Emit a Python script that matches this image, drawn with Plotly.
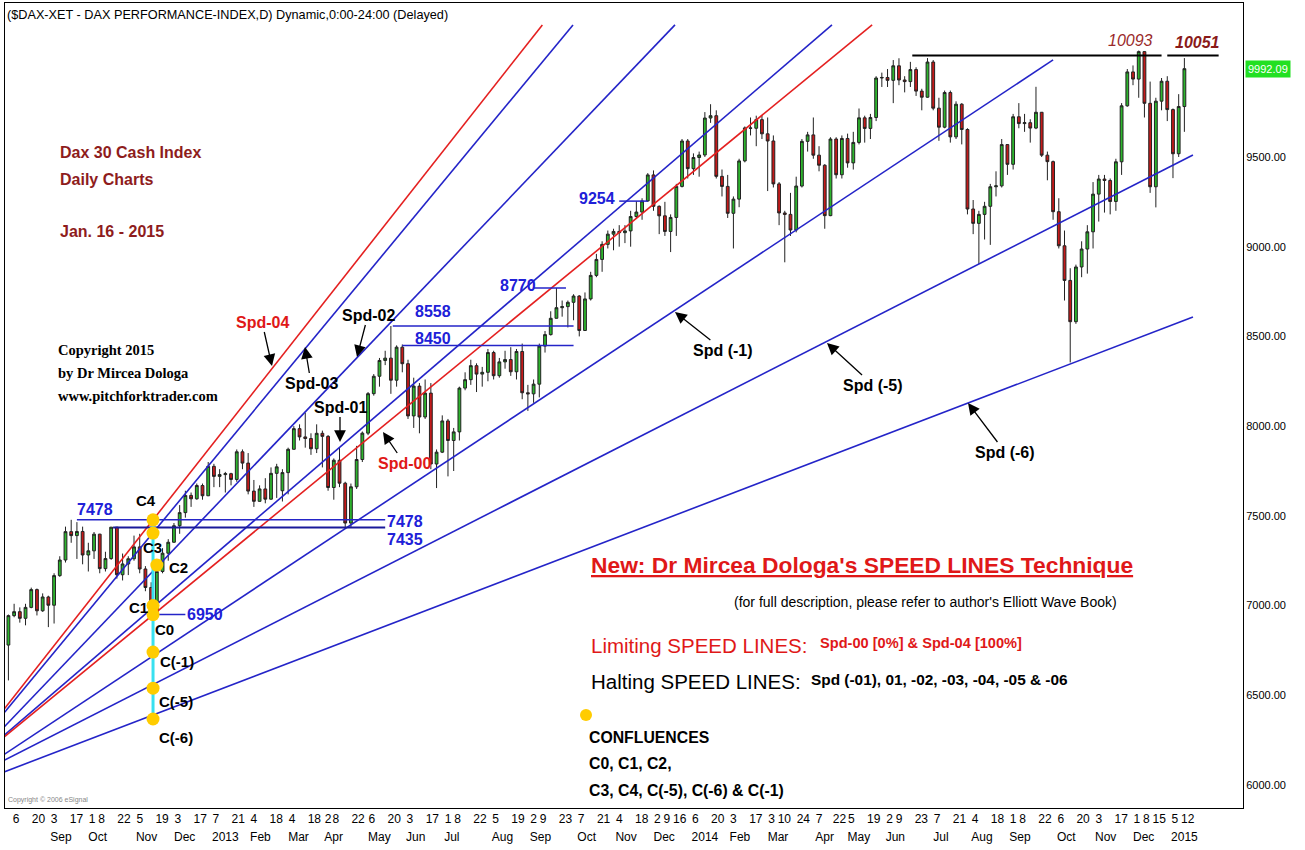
import pandas as pd
import plotly.graph_objects as go

# ---------------------------------------------------------------- data ----
XETRA_HOLIDAYS = ["2012-12-24", "2012-12-25", "2012-12-26", "2012-12-31",
                  "2013-01-01", "2013-03-29", "2013-04-01", "2013-05-01",
                  "2013-12-24", "2013-12-25", "2013-12-26", "2013-12-31",
                  "2014-01-01", "2014-04-18", "2014-04-21", "2014-05-01",
                  "2014-12-24", "2014-12-25", "2014-12-26", "2014-12-31",
                  "2015-01-01"]

# DAX daily chart, drawn as 3-session candles (Aug 1 2012 -> Jan 15 2015)
bar_open = [
    6780, 6944, 6966, 6929, 6990, 7089, 6971, 7048, 7002, 7167,
    7254, 7412, 7390, 7413, 7282, 7305, 7398, 7206, 7262, 7437,
    7172, 7232, 7261, 7327, 7204, 7101, 6950, 7190, 7292, 7353,
    7445, 7518, 7614, 7595, 7669, 7612, 7776, 7720, 7730, 7735,
    7703, 7857, 7794, 7638, 7581, 7650, 7593, 7737, 7640, 7741,
    7871, 7986, 7940, 7931, 7874, 7960, 7943, 7658, 7810, 7682,
    7460, 7662, 7814, 7961, 8181, 8278, 8366, 8379, 8256, 8440,
    8348, 8057, 8223, 8051, 8184, 7789, 7855, 8029, 7920, 7968,
    8212, 8259, 8337, 8290, 8300, 8410, 8281, 8358, 8371, 8303,
    8416, 8186, 8180, 8234, 8446, 8510, 8601, 8660, 8666, 8690,
    8725, 8533, 8709, 8840, 8929, 9013, 9070, 9085, 9078, 9088,
    9168, 9193, 9255, 9400, 9225, 9172, 9085, 9163, 9336, 9589,
    9435, 9497, 9511, 9717, 9730, 9392, 9336, 9186, 9265, 9478,
    9662, 9660, 9708, 9629, 9589, 9350, 9188, 9180, 9093, 9338,
    9587, 9623, 9510, 9454, 9173, 9600, 9401, 9603, 9467, 9581,
    9718, 9659, 9720, 9940, 9943, 9927, 10008, 9929, 9920, 9987,
    9867, 9833, 10029, 9772, 9666, 9859, 9612, 9794, 9653, 9210,
    9130, 9180, 9225, 9334, 9339, 9569, 9459, 9724, 9686, 9691,
    9661, 9749, 9510, 9474, 9195, 9005, 8812, 8582, 8887, 8987,
    9083, 9293, 9377, 9369, 9252, 9473, 9785, 9974, 9934, 10087,
    9799, 9334, 9811, 9922, 9764, 9518, 9781]
bar_high = [
    6950, 7010, 6990, 7010, 7100, 7095, 7068, 7055, 7180, 7275,
    7440, 7478, 7465, 7440, 7350, 7410, 7400, 7300, 7437, 7437,
    7290, 7275, 7390, 7400, 7220, 7130, 7200, 7320, 7370, 7460,
    7560, 7640, 7630, 7680, 7680, 7800, 7790, 7760, 7745, 7740,
    7870, 7870, 7850, 7700, 7670, 7710, 7770, 7790, 7760, 7880,
    8000, 8010, 8075, 7960, 8010, 7975, 7950, 7820, 7880, 7690,
    7680, 7890, 7970, 8190, 8290, 8380, 8420, 8558, 8450, 8455,
    8370, 8270, 8240, 8260, 8240, 7870, 8060, 8040, 7990, 8220,
    8300, 8370, 8350, 8330, 8430, 8420, 8380, 8420, 8440, 8430,
    8460, 8230, 8260, 8460, 8530, 8640, 8770, 8700, 8700, 8735,
    8730, 8745, 8860, 8960, 9030, 9090, 9100, 9120, 9120, 9200,
    9254, 9270, 9410, 9425, 9230, 9250, 9180, 9350, 9600, 9600,
    9520, 9530, 9750, 9794, 9760, 9430, 9400, 9280, 9490, 9670,
    9720, 9730, 9730, 9720, 9620, 9360, 9200, 9300, 9390, 9600,
    9640, 9720, 9560, 9460, 9610, 9610, 9620, 9630, 9640, 9770,
    9730, 9740, 9950, 9970, 9990, 10040, 10050, 9950, 10030, 10000,
    9880, 10051, 10040, 9830, 9870, 9870, 9810, 9800, 9660, 9260,
    9200, 9250, 9350, 9420, 9600, 9570, 9740, 9800, 9740, 9710,
    9891, 9750, 9530, 9480, 9270, 9090, 8880, 8900, 9030, 9120,
    9360, 9400, 9400, 9380, 9490, 9800, 9990, 10010, 10093, 10090,
    9920, 9830, 9940, 9950, 9770, 9850, 10051]
bar_low = [
    6583, 6935, 6905, 6890, 6985, 6945, 6965, 6880, 6900, 7160,
    7240, 7350, 7260, 7230, 7190, 7260, 7180, 7190, 7255, 7150,
    7140, 7170, 7250, 7180, 7080, 6948, 6948, 7180, 7250, 7350,
    7400, 7490, 7550, 7590, 7590, 7610, 7660, 7660, 7630, 7670,
    7690, 7760, 7620, 7550, 7580, 7570, 7590, 7600, 7580, 7620,
    7870, 7920, 7880, 7840, 7850, 7770, 7640, 7590, 7660, 7430,
    7435, 7650, 7800, 7950, 8170, 8220, 8340, 8180, 8220, 8300,
    8040, 7990, 7960, 8040, 7760, 7655, 7850, 7720, 7750, 7920,
    8200, 8230, 8190, 8220, 8250, 8260, 8270, 8320, 8280, 8260,
    8150, 8085, 8130, 8160, 8410, 8505, 8600, 8610, 8550, 8590,
    8500, 8530, 8700, 8830, 8860, 8990, 8980, 9000, 9020, 9000,
    9160, 9150, 9250, 9200, 9070, 9060, 8970, 9060, 9330, 9380,
    9400, 9390, 9500, 9690, 9380, 9280, 9160, 8990, 9220, 9470,
    9620, 9560, 9600, 9310, 9330, 9120, 8913, 9060, 9080, 9330,
    9530, 9490, 9420, 9100, 9170, 9380, 9380, 9440, 9430, 9570,
    9580, 9600, 9700, 9890, 9890, 9800, 9900, 9860, 9890, 9840,
    9760, 9830, 9760, 9590, 9660, 9580, 9600, 9570, 9180, 9070,
    8903, 9040, 9010, 9280, 9330, 9400, 9430, 9660, 9640, 9580,
    9655, 9500, 9370, 9150, 8990, 8700, 8355, 8570, 8830, 8850,
    8990, 9140, 9190, 9180, 9200, 9400, 9780, 9900, 9830, 9720,
    9300, 9219, 9760, 9700, 9382, 9500, 9640]
bar_close = [
    6944, 6966, 6929, 6990, 7089, 6971, 7048, 7002, 7167, 7254,
    7412, 7390, 7413, 7282, 7305, 7398, 7206, 7262, 7437, 7172,
    7232, 7261, 7327, 7204, 7101, 6950, 7190, 7292, 7353, 7445,
    7518, 7614, 7595, 7669, 7612, 7776, 7720, 7730, 7735, 7703,
    7857, 7794, 7638, 7581, 7650, 7593, 7737, 7773, 7741, 7871,
    7986, 7940, 7931, 7874, 7960, 7943, 7658, 7810, 7682, 7460,
    7662, 7814, 7961, 8181, 8278, 8366, 8379, 8256, 8440, 8348,
    8057, 8223, 8051, 8184, 7789, 7855, 8029, 7920, 7968, 8212,
    8259, 8337, 8290, 8300, 8410, 8281, 8358, 8371, 8303, 8416,
    8186, 8180, 8234, 8446, 8510, 8601, 8660, 8666, 8690, 8725,
    8533, 8709, 8840, 8929, 9013, 9070, 9085, 9078, 9088, 9168,
    9193, 9255, 9400, 9225, 9172, 9085, 9163, 9336, 9589, 9435,
    9497, 9511, 9717, 9730, 9392, 9336, 9186, 9265, 9478, 9662,
    9660, 9708, 9629, 9589, 9350, 9188, 9180, 9093, 9338, 9587,
    9623, 9510, 9454, 9173, 9600, 9401, 9603, 9467, 9581, 9718,
    9659, 9720, 9940, 9943, 9927, 10008, 9929, 9920, 9987, 9867,
    9833, 10029, 9772, 9666, 9859, 9612, 9794, 9653, 9210, 9130,
    9180, 9225, 9334, 9339, 9569, 9459, 9724, 9686, 9691, 9661,
    9749, 9510, 9474, 9195, 9005, 8812, 8582, 8887, 8987, 9083,
    9293, 9377, 9369, 9252, 9473, 9785, 9974, 9934, 10087, 9799,
    9334, 9811, 9922, 9764, 9518, 9781, 9992]
SESSIONS_PER_BAR = 3
last_price = 9992.09

# x-axis tick labels (first row: day of month, second row: month / year)
day_tick_dates = [
    "2012-08-06", "2012-08-20", "2012-09-03", "2012-09-17", "2012-10-01", "2012-10-08",
    "2012-10-22", "2012-11-05", "2012-11-19", "2012-12-03", "2012-12-17",
    "2013-01-07", "2013-01-21", "2013-02-04", "2013-02-18", "2013-03-04", "2013-03-18",
    "2013-04-02", "2013-04-08", "2013-04-22", "2013-05-06", "2013-05-20", "2013-06-03",
    "2013-06-17", "2013-07-01", "2013-07-08", "2013-07-22", "2013-08-05", "2013-08-19",
    "2013-09-02", "2013-09-09", "2013-09-23", "2013-10-07", "2013-10-21", "2013-11-04",
    "2013-11-18", "2013-12-02", "2013-12-09", "2013-12-16",
    "2014-01-06", "2014-01-20", "2014-02-03", "2014-02-17", "2014-03-03", "2014-03-10",
    "2014-03-24", "2014-04-07", "2014-04-22", "2014-05-05", "2014-05-19", "2014-06-02",
    "2014-06-09", "2014-06-23", "2014-07-07", "2014-07-21", "2014-08-04", "2014-08-18",
    "2014-09-01", "2014-09-08", "2014-09-22", "2014-10-06", "2014-10-20", "2014-11-03",
    "2014-11-17", "2014-12-01", "2014-12-08", "2014-12-15",
    "2015-01-05", "2015-01-12"]
month_tick_dates = [
    "2012-09-03", "2012-10-01", "2012-11-05", "2012-12-03", "2013-01-07", "2013-02-04",
    "2013-03-04", "2013-04-02", "2013-05-06", "2013-06-03", "2013-07-01", "2013-08-05",
    "2013-09-02", "2013-10-07", "2013-11-04", "2013-12-02", "2014-01-06", "2014-02-03",
    "2014-03-03", "2014-04-07", "2014-05-05", "2014-06-02", "2014-07-07", "2014-08-04",
    "2014-09-01", "2014-10-06", "2014-11-03", "2014-12-01", "2015-01-05"]
month_tick_text = ["Sep", "Oct", "Nov", "Dec", "2013", "Feb", "Mar", "Apr", "May", "Jun",
                   "Jul", "Aug", "Sep", "Oct", "Nov", "Dec", "2014", "Feb", "Mar", "Apr",
                   "May", "Jun", "Jul", "Aug", "Sep", "Oct", "Nov", "Dec", "2015"]
price_ticks = [6000, 6500, 7000, 7500, 8000, 8500, 9000, 9500]

# speed lines: (session index, price) at both ends
speed_names = ["Spd-04", "Spd-03", "Spd-02", "Spd-01", "Spd-00", "Spd (-1)", "Spd (-5)", "Spd (-6)"]
speed_limiting = [True, False, False, False, True, False, False, False]
speed_start_idx = [-1, -1, -1, -1, -1, -1, -1, -1]
speed_start_price = [6426, 6406, 6326, 6280, 6270, 6172, 6139, 6074]
speed_end_idx = [281.6, 297.7, 351.3, 433.8, 454.9, 550, 623.5, 623.5]
speed_end_price = [10236, 10236, 10236, 10236, 10236, 10041, 9511, 8608]

# horizontal price levels (blue)
level_values = [7478, 7435, 6950, 8558, 8450, 8770, 9254]
level_start_idx = [37, 56, 77, 203, 208, 277, 322]
level_end_idx = [199, 199, 94, 298, 298, 294, 337]
# black resistance lines at the top
top_level_values = [10065, 10065]
top_level_start_idx = [476, 610]
top_level_end_idx = [607, 637]
top_level_labels = ["10093", "10051"]

# confluence points (Nov 16 2012 column)
conf_names = ["C4", "C3", "C2", "C1", "C0", "C(-1)", "C(-5)", "C(-6)"]
conf_idx = [77, 77, 79, 77, 77, 77, 77, 77]
conf_price = [7478, 7404, 7226, 7000, 6950, 6741, 6540, 6368]

# ---------------------------------------------------------------- layout ---
W, H = 1305, 850
ML, MR, MT, MB = 5, 62, 3, 42
PW, PH = W - ML - MR, H - MT - MB
X_RANGE = [-0.79, 649.8]
Y_RANGE = [5872, 10358]

SANS = "Liberation Sans, Arial, sans-serif"
TIMES = "Liberation Serif, Times New Roman, serif"
BLUE_LINE = "#2424c8"
RED_LINE = "#e42020"
BLUE_TXT = "#2020d8"
RED_TXT = "#e01818"
MAROON = "#8e1c1c"


def pxx(p):
    return (p - ML) / PW


def pxy(p):
    return (H - MB - p) / PH


holidays = set(XETRA_HOLIDAYS)
sessions = [d for d in pd.bdate_range("2012-08-01", "2015-01-30")
            if d.strftime("%Y-%m-%d") not in holidays]
sidx = {d.strftime("%Y-%m-%d"): i for i, d in enumerate(sessions)}

bar_x = [SESSIONS_PER_BAR * k + 1 for k in range(len(bar_close))]
day_tick_vals = [sidx[d] for d in day_tick_dates]
day_tick_text = [str(int(d[-2:])) for d in day_tick_dates]
month_tick_vals = [sidx[d] for d in month_tick_dates]

fig = go.Figure()

fig.add_trace(go.Candlestick(
    x=bar_x, open=bar_open, high=bar_high, low=bar_low, close=bar_close,
    increasing=dict(line=dict(color="#222222", width=1), fillcolor="#2db52d"),
    decreasing=dict(line=dict(color="#222222", width=1), fillcolor="#c41a1a"),
    whiskerwidth=0, showlegend=False, hoverinfo="skip"))

# speed lines
for i, name in enumerate(speed_names):
    fig.add_trace(go.Scatter(
        x=[speed_start_idx[i], speed_end_idx[i]],
        y=[speed_start_price[i], speed_end_price[i]],
        mode="lines", showlegend=False, hoverinfo="skip",
        line=dict(color=RED_LINE if speed_limiting[i] else BLUE_LINE, width=1.6)))

# horizontal levels
for i, v in enumerate(level_values):
    fig.add_trace(go.Scatter(
        x=[level_start_idx[i], level_end_idx[i]], y=[v, v], mode="lines",
        showlegend=False, hoverinfo="skip",
        line=dict(color="#1a1a9a" if v == 7435 else BLUE_LINE, width=2 if v == 7435 else 1.5)))
for i, v in enumerate(top_level_values):
    fig.add_trace(go.Scatter(
        x=[top_level_start_idx[i], top_level_end_idx[i]], y=[v, v], mode="lines",
        showlegend=False, hoverinfo="skip", line=dict(color="black", width=2)))

# confluence column
fig.add_trace(go.Scatter(
    x=[conf_idx[0], conf_idx[0]], y=[max(conf_price), min(conf_price)], mode="lines",
    showlegend=False, hoverinfo="skip", line=dict(color="#38e0f0", width=3)))
fig.add_trace(go.Scatter(
    x=conf_idx, y=conf_price, mode="markers", showlegend=False, hoverinfo="skip",
    marker=dict(size=13, color="#ffcc00", line=dict(width=0))))

# carrier trace so the month axis is drawn
fig.add_trace(go.Scatter(x=[X_RANGE[0]], y=[Y_RANGE[0]], xaxis="x2", mode="markers",
                         marker=dict(opacity=0), showlegend=False, hoverinfo="skip"))

ann = []


def text(x, y, s, size, color="black", family=SANS, anchor="left"):
    ann.append(dict(xref="paper", yref="paper", x=pxx(x), y=pxy(y), text=s,
                    showarrow=False, xanchor=anchor, yanchor="middle",
                    font=dict(family=family, size=size, color=color)))


text(5, 15, "($DAX-XET - DAX PERFORMANCE-INDEX,D) Dynamic,0:00-24:00 (Delayed)", 12.7)
text(58, 152, "<b>Dax 30 Cash Index</b>", 16, MAROON)
text(58, 179, "<b>Daily Charts</b>", 16, MAROON)
text(58, 231, "<b>Jan. 16 - 2015</b>", 16, MAROON)
text(56, 350, "<b>Copyright 2015</b>", 14.5, "black", TIMES)
text(56, 373, "<b>by Dr Mircea Dologa</b>", 14.5, "black", TIMES)
text(56, 396, "<b>www.pitchforktrader.com</b>", 14.5, "black", TIMES)
text(6, 800, "Copyright © 2006 eSignal", 7, "#888888", SANS)

text(589, 565, "<b><u>New: Dr Mircea Dologa's SPEED LINES Technique</u></b>", 22.8, RED_TXT)
text(732, 602, "(for full description, please refer to author's Elliott Wave Book)", 14)
text(589, 645, "Limiting SPEED LINES:", 20.5, RED_TXT)
text(818, 643, "<b>Spd-00 [0%] & Spd-04 [100%]</b>", 14.6, RED_TXT)
text(589, 681, "Halting SPEED LINES:", 20.5, "black")
text(809, 679, "<b>Spd (-01), 01, -02, -03, -04, -05 & -06</b>", 15.4)
text(587, 737, "<b>CONFLUENCES</b>", 15.8)
text(587, 763, "<b>C0, C1, C2,</b>", 15.8)
text(587, 790, "<b>C3, C4, C(-5), C(-6) & C(-1)</b>", 15.8)

# level labels
level_label_pos = [(95, 509), (405, 521), (405, 539), (205, 614), (433, 311), (433, 338),
                   (518, 286), (597, 198)]
level_label_vals = [level_values[0], level_values[0], level_values[1], level_values[2],
                    level_values[3], level_values[4], level_values[5], level_values[6]]
for (lx, ly), v in zip(level_label_pos, level_label_vals):
    text(lx, ly, f"<b>{v}</b>", 16, BLUE_TXT, anchor="center")
text(1130, 40, f"<i>{top_level_labels[0]}</i>", 16, "#9a2a2a", anchor="center")
text(1197, 43, f"<b><i>{top_level_labels[1]}</i></b>", 16, "#8a1a1a", anchor="center")

# confluence labels
conf_label_pos = [(146, 500), (152, 547), (178, 567), (138, 607), (164, 629),
                  (177, 661), (176, 701), (176, 737)]
for (lx, ly), s in zip(conf_label_pos, conf_names):
    text(lx, ly, f"<b>{s}</b>", 15, "black", anchor="center")

# speed line arrows: (tip px, label px)
arrow_spec = [((272, 366), (262, 322), RED_TXT), ((305, 347), (311, 383), "black"),
              ((357, 357), (368, 315), "black"), ((340, 442), (340, 407), "black"),
              ((383, 432), (404, 463), RED_TXT), ((675, 312), (723, 350), "black"),
              ((827, 343), (873, 385), "black"), ((968, 403), (1005, 452), "black")]
for name, ((tx, ty), (lx, ly), col) in zip(speed_names, arrow_spec):
    ann.append(dict(xref="paper", yref="paper", x=pxx(tx), y=pxy(ty),
                    ax=lx - tx, ay=ly - ty, axref="pixel", ayref="pixel",
                    text=f"<b>{name}</b>", showarrow=True, arrowhead=2, arrowsize=1.8,
                    arrowwidth=1.3, arrowcolor="black", standoff=0,
                    font=dict(family=SANS, size=16, color=col)))

# last price box
ann.append(dict(xref="paper", yref="y", x=pxx(1245), y=last_price, text=f"{last_price:.2f}",
                showarrow=False, xanchor="left", yanchor="middle", bgcolor="#22e022",
                borderpad=2, font=dict(family=SANS, size=11, color="white")))

shapes = [dict(type="circle", xref="paper", yref="paper",
               x0=pxx(580), x1=pxx(592), y0=pxy(709), y1=pxy(721),
               fillcolor="#ffcc00", line=dict(width=0))]

fig.update_layout(
    width=W, height=H, margin=dict(l=ML, r=MR, t=MT, b=MB, pad=0),
    paper_bgcolor="white", plot_bgcolor="white", showlegend=False,
    annotations=ann, shapes=shapes,
    xaxis=dict(range=X_RANGE, tickmode="array", tickvals=day_tick_vals, ticktext=day_tick_text,
               ticklabelposition="outside right", ticks="", tickangle=0, showgrid=False,
               zeroline=False, showline=True, linecolor="black", linewidth=1, mirror=True,
               tickfont=dict(family=SANS, size=12, color="black"),
               rangeslider=dict(visible=False), fixedrange=True),
    xaxis2=dict(overlaying="x", anchor="y", side="bottom", range=X_RANGE, tickmode="array",
                tickvals=month_tick_vals, ticktext=month_tick_text, tickangle=0,
                ticklabelposition="outside right", ticks="", ticklabelstandoff=20,
                showgrid=False, zeroline=False, showline=False,
                tickfont=dict(family=SANS, size=12, color="black"), fixedrange=True),
    yaxis=dict(range=Y_RANGE, side="right", tickmode="array", tickvals=price_ticks,
               ticktext=[f"{v:.2f}" for v in price_ticks], ticks="", showgrid=False,
               zeroline=False, showline=True, linecolor="black", linewidth=1, mirror=True,
               tickfont=dict(family=SANS, size=11, color="black"), fixedrange=True),
)

fig.write_html("out.html", config={"displayModeBar": False},
               post_script="document.body.style.margin='0';")
